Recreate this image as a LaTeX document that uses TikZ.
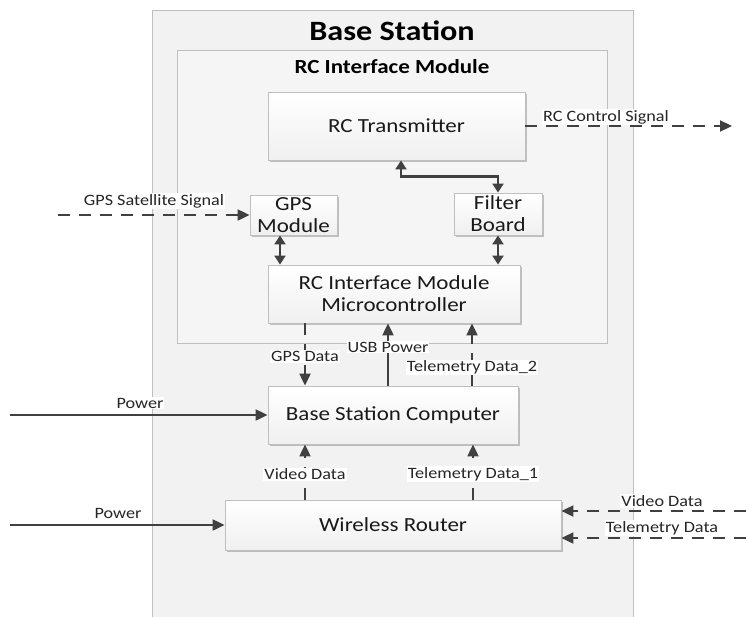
\documentclass[tikz,border=0pt]{standalone}
\usepackage{fontspec}
\setmainfont[FakeStretch=1.15]{Carlito}
\usetikzlibrary{arrows.meta,shadows}
\definecolor{arrowc}{HTML}{404040}
\definecolor{outerfill}{HTML}{F2F2F2}
\definecolor{modfill}{HTML}{F5F5F5}
\definecolor{boxline}{HTML}{BFBFBF}
\begin{document}
\begin{tikzpicture}[x=1pt,y=-1pt,
  outerbox/.style={draw=boxline, line width=1pt, fill=outerfill, inner sep=0pt},
  modbox/.style={draw=boxline, line width=1pt, fill=modfill, inner sep=0pt,
    drop shadow={shadow xshift=1.2pt, shadow yshift=-1.2pt, opacity=0.15, fill=black}},
  box/.style={draw=boxline, line width=0.9pt, top color=white, bottom color=black!6,
    text=black!90, font=\fontsize{20}{22}\selectfont, align=center, inner sep=0pt,
    drop shadow={shadow xshift=1.5pt, shadow yshift=-1.5pt, opacity=0.22, fill=black}},
  lbl/.style={fill=white, inner sep=1pt, font=\fontsize{15.8}{17}\selectfont, text=black!85},
  conn/.style={draw=arrowc, line width=2.2pt, -{Triangle[length=12pt,width=11pt]}},
  dconn/.style={conn, dash pattern=on 12pt off 9pt},
  dbl/.style={draw=arrowc, line width=2.2pt, {Triangle[length=9pt,width=11pt]}-{Triangle[length=9pt,width=11pt]}},
  ttl/.style={font=\bfseries\fontsize{28}{30}\selectfont, text=black, inner sep=0pt},
  subttl/.style={font=\bfseries\fontsize{20}{22}\selectfont, text=black, inner sep=0pt}
]
\useasboundingbox (0,0) rectangle (746,616);
% containers
\node[outerbox, minimum width=481pt, minimum height=615pt] (bs) at (392.5,317.5) {};
\node[ttl] (bst) at (392,31) {Base Station};
\node[modbox, minimum width=430pt, minimum height=293pt] (rcm) at (392,196.5) {};
\node[subttl] (rcmt) at (392,67) {RC Interface Module};
% blocks
\node[box, minimum width=257pt, minimum height=68pt] (tx) at (396.5,126) {RC Transmitter};
\node[box, minimum width=87pt, minimum height=40pt] (gps) at (293.5,215) {GPS\\Module};
\node[box, minimum width=88pt, minimum height=42pt] (fb) at (498,214) {Filter\\Board};
\node[box, minimum width=252pt, minimum height=58pt] (mc) at (394,294) {RC Interface Module\\Microcontroller};
\node[box, minimum width=250pt, minimum height=58pt] (bsc) at (393,415) {Base Station Computer};
\node[box, minimum width=336pt, minimum height=50pt] (rt) at (393,525) {Wireless Router};
% free ends
\coordinate (gsat) at (58,215);
\coordinate (rcout) at (732,126);
\coordinate (pw1) at (10,415);
\coordinate (pw2) at (10,525);
\coordinate (vin) at (746,511);
\coordinate (tin) at (746,538);
% internal connectors
\draw[dbl] ([xshift=4.5pt]tx.south) -- ++(0,16) -| (fb.north);
\draw[dbl] ([xshift=-13.5pt]gps.south) -- ([xshift=-13.5pt]gps.south |- mc.north);
\draw[dbl] (fb.south) -- (fb.south |- mc.north);
\draw[dconn] ([xshift=-89pt]mc.south) -- ([xshift=-89pt]mc.south |- bsc.north)
  node[lbl, pos=0.53] (gpsd) {GPS Data};
\draw[conn] ([xshift=-5pt]bsc.north) -- ([xshift=-5pt]bsc.north |- mc.south)
  node[lbl, pos=0.62] (usbp) {USB Power};
\draw[dconn] ([xshift=79pt]bsc.north) -- ([xshift=79pt]bsc.north |- mc.south)
  node[lbl, pos=0.29] (tel2) {Telemetry Data\_2};
\draw[dconn] ([xshift=-88pt]rt.north) -- ([xshift=-88pt]rt.north |- bsc.south)
  node[lbl, pos=0.46] (vidd) {Video Data};
\draw[dconn] ([xshift=80pt]rt.north) -- ([xshift=80pt]rt.north |- bsc.south)
  node[lbl, pos=0.46] (tel1) {Telemetry Data\_1};
% external connectors
\draw[dconn] (gsat) -- (gps.west);
\node[lbl] (gsatl) at (154,201) {GPS Satellite Signal};
\draw[dconn] (tx.east) -- (rcout);
\node[lbl] (rcl) at (606,117) {RC Control Signal};
\draw[conn] (pw1) -- (bsc.west);
\node[lbl] (pw1l) at (140,403) {Power};
\draw[conn] (pw2) -- (rt.west);
\node[lbl] (pw2l) at (118,513) {Power};
\draw[dconn] (vin) -- (vin -| rt.east);
\node[lbl] (vinl) at (662,501) {Video Data};
\draw[dconn] (tin) -- (tin -| rt.east);
\node[lbl] (tinl) at (662,528) {Telemetry Data};
\end{tikzpicture}
\end{document}
